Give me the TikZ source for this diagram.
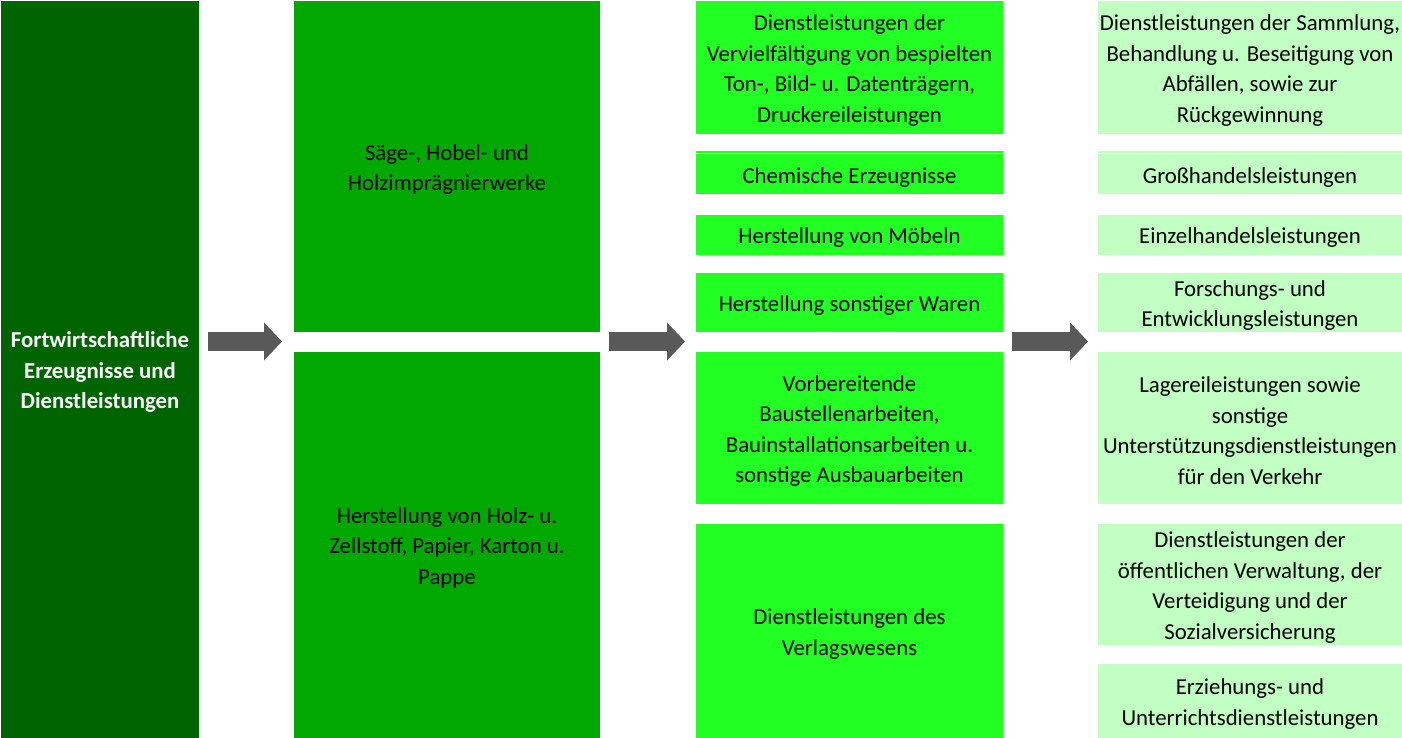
\documentclass[tikz,border=0pt]{standalone}
\usepackage{fontspec}
\setmainfont{Carlito}
\usetikzlibrary{arrows.meta}
\definecolor{cA}{RGB}{0,100,0}
\definecolor{cB}{RGB}{0,168,0}
\definecolor{cC}{RGB}{34,255,34}
\definecolor{cD}{RGB}{194,255,194}
\definecolor{cArr}{RGB}{89,89,89}
\tikzset{
  x=1pt,y=-1pt,
  base/.style={inner sep=0pt, outer sep=0pt, anchor=north west},
  txt/.style={inner sep=0pt, align=center, yshift=-2.8pt, font=\fontsize{22.8}{30.5}\selectfont},
  txtw/.style={txt, text=white, font=\fontsize{22.8}{30.5}\selectfont\bfseries},
  boxA/.style={base, fill=cA, minimum width=198pt},
  boxB/.style={base, fill=cB, minimum width=306pt},
  boxC/.style={base, fill=cC, minimum width=307pt},
  boxD/.style={base, fill=cD, minimum width=304pt},
  blockarrow/.style={draw=cArr, line width=19pt, -{Triangle[length=18pt,width=37pt]}},
}
\begin{document}
\begin{tikzpicture}
\useasboundingbox (0,0) rectangle (1402,738);
% column 1
\node[boxA, minimum height=737pt] (L) at (1,1) {};
\node[txtw] (Lt) at (L.center) {Fortwirtschaftliche\\Erzeugnisse und\\Dienstleistungen};
% column 2
\node[boxB, minimum height=331pt] (B1) at (294,1) {};
\node[txt] (B1t) at (B1.center) {Säge-, Hobel- und\\Holzimprägnierwerke};
\node[boxB, minimum height=386pt] (B2) at (294,352) {};
\node[txt] (B2t) at (B2.center) {Herstellung von Holz- u.\\Zellstoff, Papier, Karton u.\\Pappe};
% column 3
\node[boxC, minimum height=133pt] (C1) at (696,1) {};
\node[txt] (C1t) at (C1.center) {Dienstleistungen der\\Vervielfältigung von bespielten\\Ton-, Bild- u. Datenträgern,\\Druckereileistungen};
\fill[cC] (696,151.5) rectangle (1003,153);
\node[boxC, minimum height=40pt] (C2) at (696,154.5) {};
\node[txt] (C2t) at (C2.center) {Chemische Erzeugnisse};
\node[boxC, minimum height=39.5pt] (C3) at (696,215) {};
\node[txt] (C3t) at (C3.center) {Herstellung von Möbeln};
\node[boxC, minimum height=59pt] (C4) at (696,273) {};
\node[txt] (C4t) at (C4.center) {Herstellung sonstiger Waren};
\node[boxC, minimum height=152pt] (C5) at (696,352) {};
\node[txt] (C5t) at (C5.center) {Vorbereitende\\Baustellenarbeiten,\\Bauinstallationsarbeiten u.\\sonstige Ausbauarbeiten};
\node[boxC, minimum height=214pt] (C6) at (696,524) {};
\node[txt] (C6t) at (C6.center) {Dienstleistungen des\\Verlagswesens};
% column 4
\node[boxD, minimum height=133pt] (D1) at (1098,1) {};
\node[txt] (D1t) at (D1.center) {Dienstleistungen der Sammlung,\\Behandlung u. Beseitigung von\\Abfällen, sowie zur\\Rückgewinnung};
\fill[cD] (1098,151.5) rectangle (1402,153);
\node[boxD, minimum height=40pt] (D2) at (1098,154.5) {};
\node[txt] (D2t) at (D2.center) {Großhandelsleistungen};
\node[boxD, minimum height=39.5pt] (D3) at (1098,215) {};
\node[txt] (D3t) at (D3.center) {Einzelhandelsleistungen};
\node[boxD, minimum height=59pt] (D4) at (1098,273) {};
\node[txt] (D4t) at (D4.center) {Forschungs- und\\Entwicklungsleistungen};
\node[boxD, minimum height=152pt] (D5) at (1098,352) {};
\node[txt] (D5t) at (D5.center) {Lagereileistungen sowie\\sonstige\\Unterstützungsdienstleistungen\\für den Verkehr};
\node[boxD, minimum height=121pt] (D6) at (1098,524) {};
\node[txt] (D6t) at (D6.center) {Dienstleistungen der\\öffentlichen Verwaltung, der\\Verteidigung und der\\Sozialversicherung};
\node[boxD, minimum height=74pt] (D7) at (1098,664) {};
\node[txt] (D7t) at (D7.center) {Erziehungs- und\\Unterrichtsdienstleistungen};
% arrows
\coordinate (a1s) at (208,341.5);
\coordinate (a1e) at (282,341.5);
\coordinate (a2s) at (609,341.5);
\coordinate (a2e) at (685,341.5);
\coordinate (a3s) at (1012,341.5);
\coordinate (a3e) at (1088,341.5);
\draw[blockarrow] (a1s) -- (a1e);
\draw[blockarrow] (a2s) -- (a2e);
\draw[blockarrow] (a3s) -- (a3e);
\end{tikzpicture}
\end{document}
